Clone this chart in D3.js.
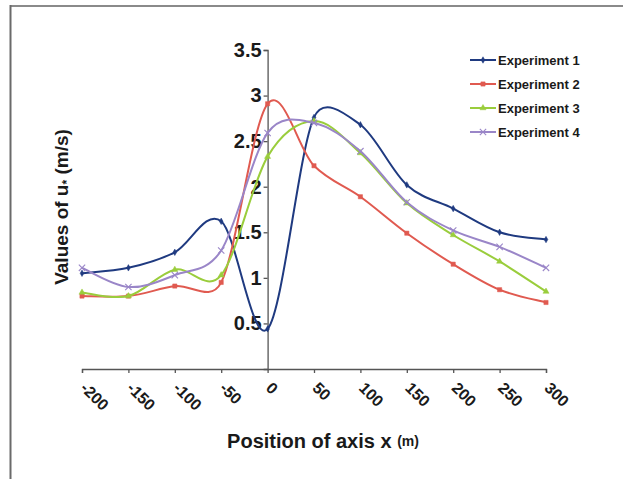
<!DOCTYPE html>
<html>
<head>
<meta charset="utf-8">
<script src="https://cdn.jsdelivr.net/npm/d3@7"></script>
<style>
html,body{margin:0;padding:0;background:#fff;}
svg{display:block;}
text{font-family:"Liberation Sans",Arial,sans-serif;fill:#1a1a1a;}
</style>
</head>
<body>
<svg id="chart" width="623" height="479"></svg>
<script>
const positions = [-200,-150,-100,-50,0,50,100,150,200,250,300];
const exp1 = [1.05,1.11,1.28,1.62,0.44,2.76,2.68,2.02,1.76,1.50,1.42];
const exp2 = [0.80,0.80,0.91,0.95,2.91,2.23,1.89,1.49,1.15,0.87,0.73];
const exp3 = [0.84,0.80,1.09,1.03,2.33,2.72,2.37,1.82,1.47,1.18,0.85];
const exp4 = [1.11,0.90,1.03,1.30,2.59,2.70,2.39,1.83,1.52,1.34,1.11];
const seriesNames = ["Experiment 1","Experiment 2","Experiment 3","Experiment 4"];
const seriesColors = ["#1f3a80","#e05a50","#9acd3c","#9a86c8"];
const seriesMarkers = ["diamond","square","triangle","cross"];
const yTicks = [0.5,1,1.5,2,2.5,3,3.5];
const xTicks = [-200,-150,-100,-50,0,50,100,150,200,250,300];

const allSeries = [exp1,exp2,exp3,exp4];
const svg = d3.select("#chart");

// frame
svg.append("line").attr("x1",10.5).attr("x2",623).attr("y1",6).attr("y2",6).attr("stroke","#8a8a8a").attr("stroke-width",2);
svg.append("line").attr("x1",10.5).attr("x2",10.5).attr("y1",5).attr("y2",479).attr("stroke","#6a6a6a").attr("stroke-width",2);

const x = d3.scaleLinear().domain([-200,300]).range([82,546]);
const y = d3.scaleLinear().domain([0,3.5]).range([369,50]);

// x axis
const xAxis = svg.append("g").attr("transform",`translate(0,${y(0)})`)
  .call(d3.axisBottom(x).tickValues(xTicks).tickSize(4).tickFormat(d=>String(d)));
xAxis.select(".domain").attr("stroke","#555").attr("stroke-width",1.3);
xAxis.selectAll(".tick line").attr("stroke","#555").attr("stroke-width",1.3);
xAxis.selectAll(".tick text")
  .attr("font-size",16).attr("font-weight","bold").attr("fill","#1a1a1a")
  .attr("text-anchor","start").attr("dy",null).attr("y",0)
  .attr("transform","translate(-3,20) rotate(45)");

// y axis
const yAxis = svg.append("g").attr("transform",`translate(${x(0)},0)`)
  .call(d3.axisLeft(y).tickValues(yTicks).tickSize(4).tickFormat(d=>String(d)));
yAxis.select(".domain").attr("stroke","#555").attr("stroke-width",1.3);
yAxis.selectAll(".tick line").attr("stroke","#555").attr("stroke-width",1.3);
yAxis.selectAll(".tick text").attr("font-size",20).attr("font-weight","bold").attr("fill","#1a1a1a").attr("x",-6);

// Excel-like smoothing: Bezier with control offset (P2-P0)/6, capped at half segment length
function excelSmooth(pts){
  const n = pts.length;
  let d = `M${pts[0][0]},${pts[0][1]}`;
  const dist=(a,b)=>Math.hypot(a[0]-b[0],a[1]-b[1]);
  for(let i=0;i<n-1;i++){
    const p0 = pts[Math.max(i-1,0)], p1 = pts[i], p2 = pts[i+1], p3 = pts[Math.min(i+2,n-1)];
    const d12 = dist(p1,p2);
    let t1 = [(p2[0]-p0[0])/6,(p2[1]-p0[1])/6];
    let t2 = [(p3[0]-p1[0])/6,(p3[1]-p1[1])/6];
    const l1 = Math.hypot(t1[0],t1[1]), l2 = Math.hypot(t2[0],t2[1]);
    if(l1 > d12/2){ const s=(d12/2)/l1; t1=[t1[0]*s,t1[1]*s]; }
    if(l2 > d12/2){ const s=(d12/2)/l2; t2=[t2[0]*s,t2[1]*s]; }
    const c1=[p1[0]+t1[0],p1[1]+t1[1]], c2=[p2[0]-t2[0],p2[1]-t2[1]];
    d += `C${c1[0]},${c1[1]},${c2[0]},${c2[1]},${p2[0]},${p2[1]}`;
  }
  return d;
}

const symbolFor = {
  diamond: d3.symbol().type(d3.symbolDiamond).size(12),
  square: d3.symbol().type(d3.symbolSquare).size(18),
  triangle: d3.symbol().type(d3.symbolTriangle).size(16),
  cross: d3.symbol().type(d3.symbolTimes).size(28)
};
allSeries.forEach((vals,si)=>{
  const g = svg.append("g");
  const pts = vals.map((v,i)=>[x(positions[i]),y(v)]);
  g.append("path").attr("d",excelSmooth(pts)).attr("fill","none")
    .attr("stroke",seriesColors[si]).attr("stroke-width",2);
  g.selectAll("path.m").data(vals).enter().append("path").attr("class","m")
    .attr("transform",(d,i)=>`translate(${x(positions[i])},${y(d)})`)
    .attr("d",symbolFor[seriesMarkers[si]]())
    .attr("fill",seriesMarkers[si]==="cross"?"none":seriesColors[si])
    .attr("stroke",seriesColors[si]).attr("stroke-width",seriesMarkers[si]==="cross"?1.1:0.5);
});

// legend
const leg = svg.append("g");
seriesNames.forEach((n,i)=>{
  const ly = 60 + i*24;
  leg.append("line").attr("x1",470).attr("x2",496).attr("y1",ly).attr("y2",ly)
    .attr("stroke",seriesColors[i]).attr("stroke-width",2);
  leg.append("path").attr("transform",`translate(483,${ly})`)
    .attr("d",symbolFor[seriesMarkers[i]]())
    .attr("fill",seriesMarkers[i]==="cross"?"none":seriesColors[i])
    .attr("stroke",seriesColors[i]).attr("stroke-width",seriesMarkers[i]==="cross"?1.1:0.5);
  leg.append("text").attr("x",498).attr("y",ly).attr("dy","0.36em")
    .attr("font-size",13).attr("font-weight","bold").text(n);
});

// axis titles
const yt = svg.append("text").attr("transform","translate(68,207) rotate(-90)")
  .attr("text-anchor","middle").attr("font-size",19).attr("font-weight","bold");
yt.append("tspan").text("Values of u");
yt.append("tspan").attr("font-size",12).attr("dy",3).text("*");
yt.append("tspan").attr("dy",-3).text(" (m/s)");

const xt = svg.append("text").attr("x",323).attr("y",448)
  .attr("text-anchor","middle").attr("font-size",20).attr("font-weight","bold");
xt.append("tspan").text("Position of axis x ");
xt.append("tspan").attr("font-size",14).attr("dy",-2).text("(m)");
</script>
</body>
</html>
